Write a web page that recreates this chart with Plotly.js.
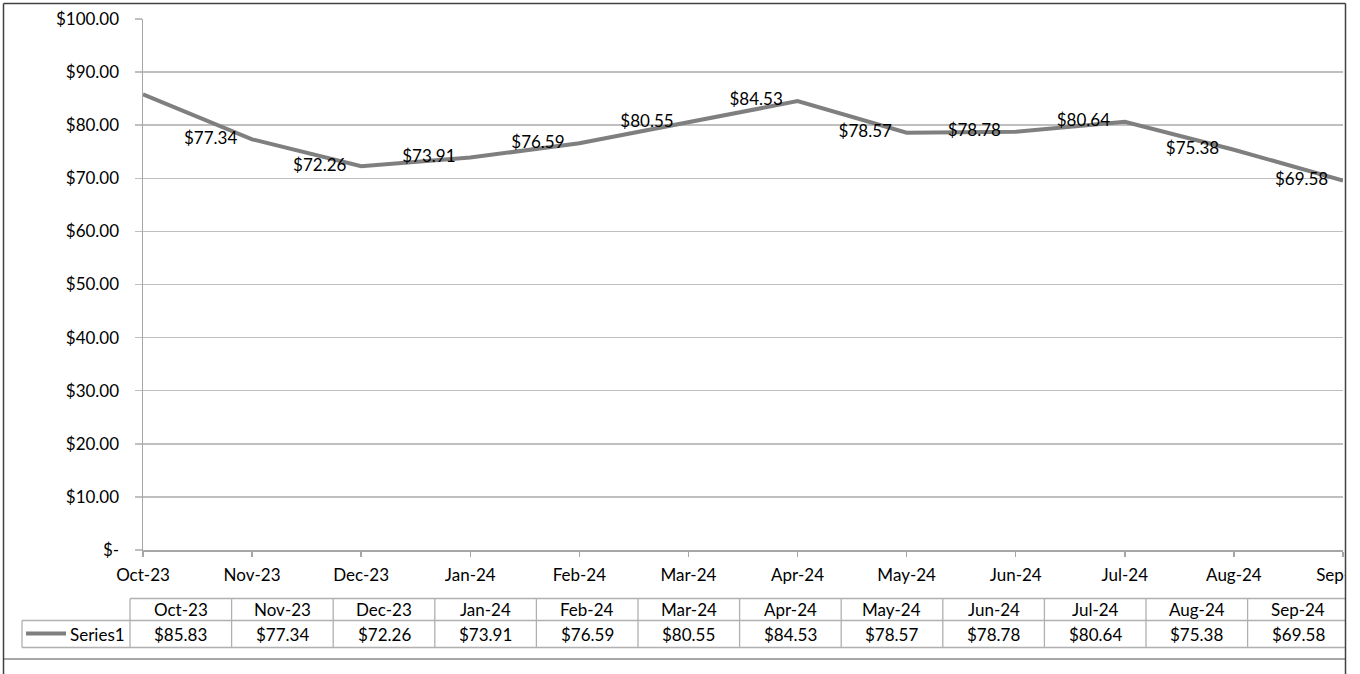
<!DOCTYPE html>
<html>
<head>
<meta charset="utf-8">
<script src="https://cdn.plot.ly/plotly-3.0.1.min.js"></script>
<style>
  html, body { margin: 0; padding: 0; background: #ffffff; }
  #chart { width: 1360px; height: 674px; }
</style>
</head>
<body>
<div id="chart"></div>
<script>
// ---- data ----
const categories = ['Oct-23', 'Nov-23', 'Dec-23', 'Jan-24', 'Feb-24', 'Mar-24',
                    'Apr-24', 'May-24', 'Jun-24', 'Jul-24', 'Aug-24', 'Sep-24'];
const prices = [85.83, 77.34, 72.26, 73.91, 76.59, 80.55, 84.53, 78.57, 78.78, 80.64, 75.38, 69.58];
const seriesName = 'Series1';
const yTickVals = [0, 10, 20, 30, 40, 50, 60, 70, 80, 90, 100];
const yTickText = ['$-', '$10.00', '$20.00', '$30.00', '$40.00', '$50.00',
                   '$60.00', '$70.00', '$80.00', '$90.00', '$100.00'];

function money(v) { return '$' + v.toFixed(2); }

// ---- geometry (pixels -> paper) ----
const W = 1360, H = 674;
const M = { l: 143, r: 17, t: 19, b: 124 };
const PW = W - M.l - M.r, PH = H - M.t - M.b;
const xp = px => (px - M.l) / PW;
const yp = py => (H - M.b - py) / PH;

const FONT = 'Lato, "Open Sans", sans-serif';
const FS = 17;
const gridColor = '#bfbfbf';
const axisColor = '#a6a6a6';
const tableColor = '#b0b0b0';
const lineColor = '#7f7f7f';

const trace = {
  type: 'scatter',
  mode: 'lines+markers+text',
  x: categories,
  y: prices,
  name: seriesName,
  line: { color: lineColor, width: 4 },
  marker: { size: 22, color: 'rgba(0,0,0,0)' },
  text: prices.map(money),
  textposition: 'middle left',
  textfont: { family: FONT, size: FS, color: '#000000' },
  hoverinfo: 'x+y',
  cliponaxis: true
};

// ---- data table under the chart ----
const shapes = [];
const annotations = [];
const colW = 101.6, tableX0 = 130, labelX0 = 22;
const rowTop = 598.5, rowMid = 620.5, rowBot = 647.5;
const rightEdge = 1345.5;

function hline(x0, x1, y, color, w) {
  shapes.push({ type: 'line', xref: 'paper', yref: 'paper', x0: xp(x0), x1: xp(x1), y0: yp(y), y1: yp(y),
                line: { color: color, width: w || 1 } });
}
function vline(x, y0, y1, color, w) {
  shapes.push({ type: 'line', xref: 'paper', yref: 'paper', x0: xp(x), x1: xp(x), y0: yp(y0), y1: yp(y1),
                line: { color: color, width: w || 1 } });
}

hline(tableX0, rightEdge, rowTop, tableColor, 1.3);
hline(labelX0, rightEdge, rowMid, tableColor, 1.3);
hline(labelX0, rightEdge, rowBot, tableColor, 1.3);
vline(labelX0, rowMid, rowBot, tableColor, 1.3);
categories.forEach((c, i) => {
  const x = tableX0 + colW * i;
  vline(x, rowTop, rowBot, tableColor, 1.3);
  const cx = x + colW / 2;
  annotations.push({ xref: 'paper', yref: 'paper', x: xp(cx), y: yp(609.5), text: c, showarrow: false,
                     xanchor: 'center', yanchor: 'middle', font: { family: FONT, size: FS, color: '#000' } });
  annotations.push({ xref: 'paper', yref: 'paper', x: xp(cx), y: yp(634), text: money(prices[i]), showarrow: false,
                     xanchor: 'center', yanchor: 'middle', font: { family: FONT, size: FS, color: '#000' } });
});
// legend key in table
hline(26, 66, 633.5, lineColor, 4);
annotations.push({ xref: 'paper', yref: 'paper', x: xp(127), y: yp(634), text: seriesName, showarrow: false,
                   xanchor: 'right', yanchor: 'middle', font: { family: FONT, size: FS, color: '#000' } });

// mask overflow beyond the chart's right edge, then chart borders
shapes.push({ type: 'rect', xref: 'paper', yref: 'paper', layer: 'above',
              x0: xp(1346), x1: xp(1375), y0: yp(690), y1: yp(-10),
              fillcolor: '#ffffff', line: { width: 0 } });
hline(3.5, rightEdge, 659, '#8a8a8a', 1.5);
hline(3.5, rightEdge, 3.5, '#404040', 1.5);
vline(3.5, 3.5, 680, '#404040', 1.5);
vline(rightEdge, 3.5, 680, '#404040', 1.5);

const layout = {
  width: W, height: H,
  margin: M,
  paper_bgcolor: '#ffffff',
  plot_bgcolor: '#ffffff',
  showlegend: false,
  font: { family: FONT, size: FS, color: '#000000' },
  xaxis: {
    type: 'category',
    range: [0, categories.length - 1],
    showgrid: false,
    showline: true, linecolor: axisColor, linewidth: 1.5,
    ticks: 'outside', ticklen: 5, tickwidth: 1.5, tickcolor: axisColor,
    tickfont: { family: FONT, size: FS, color: '#000' },
    ticklabelstandoff: 4,
    zeroline: false,
    fixedrange: true
  },
  yaxis: {
    range: [0, 100],
    tickvals: yTickVals,
    ticktext: yTickText,
    showgrid: true, gridcolor: gridColor, gridwidth: 1.5,
    showline: true, linecolor: axisColor, linewidth: 1.5,
    ticks: 'outside', ticklen: 7, tickwidth: 1.5, tickcolor: gridColor,
    tickfont: { family: FONT, size: FS, color: '#000' },
    ticklabelstandoff: 12,
    zeroline: false,
    fixedrange: true
  },
  shapes: shapes,
  annotations: annotations
};

Plotly.newPlot('chart', [trace], layout, { displayModeBar: false, staticPlot: true });
</script>
</body>
</html>
